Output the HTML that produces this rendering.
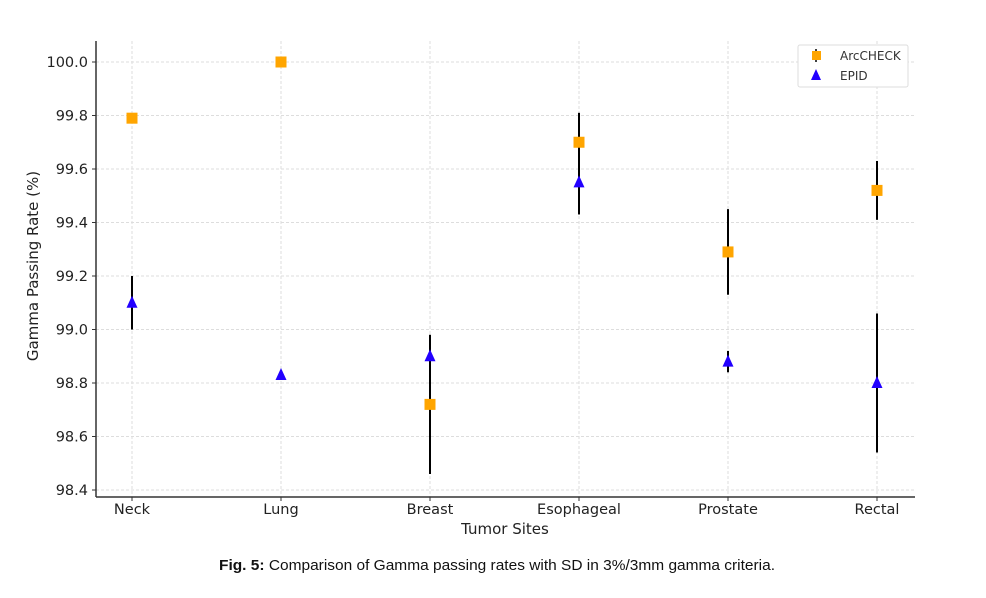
<!DOCTYPE html>
<html><head><meta charset="utf-8"><style>
body{margin:0;background:#fff;width:986px;height:593px;overflow:hidden}
svg text{font-family:"DejaVu Sans","Liberation Sans",sans-serif}
</style></head><body>
<svg id="chart" width="986" height="593">
<g id="grid"></g>
<g id="axes"></g>
<g id="marks"></g>
<g>
<rect x="798" y="45" width="110" height="42" fill="#fff" stroke="#ddd" rx="2"/>
<line x1="816" y1="49" x2="816" y2="62" stroke="#000" stroke-width="1.5"/>
<rect x="812" y="51" width="9" height="9" fill="#FFA500"/>
<text x="840" y="60" font-size="12" fill="#333">ArcCHECK</text>
<polygon points="816,69 811,80 821,80" fill="#2200ff"/>
<text x="840" y="80" font-size="12" fill="#333">EPID</text>
</g>
<text x="505" y="534" font-size="15" text-anchor="middle" fill="#222">Tumor Sites</text>
<text transform="translate(38,266) rotate(-90)" font-size="15" text-anchor="middle" fill="#222">Gamma Passing Rate (%)</text>
<text x="219" y="570" font-size="15" textLength="556" lengthAdjust="spacingAndGlyphs" fill="#111" style="font-family:'Liberation Sans',sans-serif"><tspan font-weight="bold">Fig. 5:</tspan> Comparison of Gamma passing rates with SD in 3%/3mm gamma criteria.</text>
</svg>
<script>
const categories=["Neck","Lung","Breast","Esophageal","Prostate","Rectal"];
const arcValues=[99.79,100.0,98.72,99.70,99.29,99.52];
const arcSD=[0,0,0.26,0.11,0.16,0.11];
const epidValues=[99.10,98.83,98.90,99.55,98.88,98.80];
const epidSD=[0.10,0,0.08,0.12,0.04,0.26];
const yTicks=[98.4,98.6,98.8,99.0,99.2,99.4,99.6,99.8,100.0];
const NS="http://www.w3.org/2000/svg";
const L=96,R=915,T=41,B=497;
function y(v){return 62+(100-v)/0.2*53.5;}
function x(i){return 132+i*149;}
function mk(t,a,p){const e=document.createElementNS(NS,t);for(const k in a)e.setAttribute(k,a[k]);p.appendChild(e);return e;}
const grid=document.getElementById('grid'),axes=document.getElementById('axes'),marks=document.getElementById('marks');
yTicks.forEach(v=>{
 const g=mk('line',{x1:L,x2:R,y1:y(v),y2:y(v),stroke:'#ddd','stroke-dasharray':'3,2'},grid);
 
 
 mk('line',{x1:L-4,x2:L,y1:y(v),y2:y(v),stroke:'#333'},axes);
 const t=mk('text',{x:L-8,y:y(v)+5,'font-size':14.5,'text-anchor':'end',fill:'#222'},axes);
 t.textContent=v.toFixed(1);
 
 
});
categories.forEach((c,i)=>{
 const g=mk('line',{x1:x(i),x2:x(i),y1:T,y2:B,stroke:'#ddd','stroke-dasharray':'3,2'},grid);
 
 
 mk('line',{x1:x(i),x2:x(i),y1:B,y2:B+4,stroke:'#333'},axes);
 const t=mk('text',{x:x(i),y:B+17,'font-size':14.5,'text-anchor':'middle',fill:'#222'},axes);
 t.textContent=c;
 
 
});
mk('line',{x1:L,x2:L,y1:T,y2:B,stroke:'#333','stroke-width':1.5},axes);
mk('line',{x1:L,x2:R,y1:B,y2:B,stroke:'#333','stroke-width':1.5},axes);
categories.forEach((c,i)=>{
 if(arcSD[i]>0){const e=mk('line',{x1:x(i),x2:x(i),y1:y(arcValues[i]+arcSD[i]),y2:y(arcValues[i]-arcSD[i]),stroke:'#000','stroke-width':2},marks);
 
 }
 if(epidSD[i]>0){const e=mk('line',{x1:x(i),x2:x(i),y1:y(epidValues[i]+epidSD[i]),y2:y(epidValues[i]-epidSD[i]),stroke:'#000','stroke-width':2},marks);
 
 }
});
categories.forEach((c,i)=>{
 const s=mk('rect',{x:x(i)-5.5,y:y(arcValues[i])-5.5,width:11,height:11,fill:'#FFA500'},marks);
 
 
 const cx=x(i),cy=y(epidValues[i]);
 const p=mk('polygon',{points:`${cx},${cy-7} ${cx-5.5},${cy+5} ${cx+5.5},${cy+5}`,fill:'#2200ff'},marks);
 
 
});
</script>
</body></html>
